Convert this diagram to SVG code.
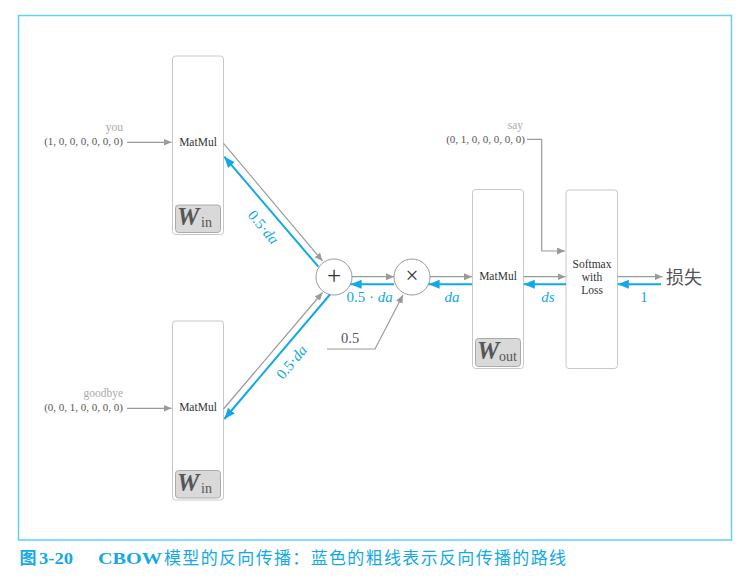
<svg xmlns="http://www.w3.org/2000/svg" width="748" height="587" viewBox="0 0 748 587">
<style>
.box{fill:#fff;stroke:#c8c8c8;stroke-width:1}
.lbl{fill:#d9d9d9;stroke:#ababab;stroke-width:1}
.serif{font-family:"Liberation Serif","DejaVu Serif",serif}
.mm{font-family:"Liberation Serif",serif;font-size:11.5px;fill:#333;text-anchor:middle}
.W{font-family:"Liberation Serif",serif;font-size:25px;font-weight:bold;font-style:italic;fill:#555}
.sub{font-family:"Liberation Serif",serif;font-size:14px;fill:#555}
.word{font-family:"Liberation Serif",serif;font-size:11.5px;fill:#aaa;text-anchor:end}
.vec{font-family:"Liberation Serif",serif;font-size:11px;fill:#555;text-anchor:end}
.g{fill:none;stroke:#9a9a9a;stroke-width:1.2}
.b{fill:none;stroke:#10a8e8;stroke-width:2}
.bt{font-family:"Liberation Serif",serif;font-size:15px;fill:#10a8e8;text-anchor:middle}
.op{fill:#fff;stroke:#9a9a9a;stroke-width:1}
</style>
<defs>
<marker id="ga" markerUnits="userSpaceOnUse" markerWidth="9" markerHeight="8" refX="8" refY="3.5" orient="auto">
<path d="M0,0 L8,3.5 L0,7 z" fill="#9a9a9a"/>
</marker>
<marker id="ba" markerUnits="userSpaceOnUse" markerWidth="12" markerHeight="10" refX="11" refY="4.5" orient="auto">
<path d="M0,0 L11,4.5 L0,9 z" fill="#10a8e8"/>
</marker>
</defs>
<rect x="18.5" y="15.5" width="713" height="524.5" fill="none" stroke="#5fd1f7" stroke-width="1.5"/>

<g id="input-you">
<text class="word" x="123" y="131">you</text>
<text class="vec" x="123" y="145">(1, 0, 0, 0, 0, 0, 0)</text>
</g>
<g id="input-goodbye">
<text class="word" x="123" y="397">goodbye</text>
<text class="vec" x="123" y="411">(0, 0, 1, 0, 0, 0, 0)</text>
</g>
<g id="input-say">
<text class="word" x="523" y="129">say</text>
<text class="vec" x="525" y="142.5">(0, 1, 0, 0, 0, 0, 0)</text>
</g>

<g id="matmul-in-1">
<rect class="box" x="172.5" y="56" width="51" height="178.5" rx="3"/>
<text class="mm" x="198" y="146">MatMul</text>
<rect class="lbl" x="175.5" y="205" width="45" height="27.5" rx="3"/>
<text class="W" x="177" y="225">W</text><text class="sub" x="201" y="227">in</text>
</g>
<g id="matmul-in-2">
<rect class="box" x="172.5" y="321" width="51" height="179" rx="3"/>
<text class="mm" x="198" y="411">MatMul</text>
<rect class="lbl" x="175.5" y="470.5" width="45" height="27.5" rx="3"/>
<text class="W" x="177" y="490.5">W</text><text class="sub" x="201" y="492.5">in</text>
</g>
<g id="add">
<circle class="op" cx="334" cy="277" r="18"/>
<text class="serif" x="334" y="283.5" font-size="25" fill="#333" text-anchor="middle">+</text>
</g>
<g id="mul">
<circle class="op" cx="412" cy="277" r="18"/>
<text class="serif" x="412" y="283" font-size="23" fill="#333" text-anchor="middle">×</text>
</g>
<g id="matmul-out">
<rect class="box" x="472.5" y="189.5" width="51" height="179" rx="3"/>
<text class="mm" x="498" y="280">MatMul</text>
<rect class="lbl" x="475.5" y="338.5" width="45" height="28" rx="3"/>
<text class="W" x="477" y="358.5">W</text><text class="sub" x="499" y="360.5">out</text>
</g>
<g id="softmax">
<rect class="box" x="566" y="190" width="51.5" height="178.5" rx="3"/>
<text class="mm" x="592" y="268">Softmax</text>
<text class="mm" x="592" y="281">with</text>
<text class="mm" x="592" y="294">Loss</text>
</g>
<g id="loss">
<text x="666" y="283.5" font-family="'Noto Sans CJK SC',sans-serif" font-size="18" fill="#555">损失</text>
</g>

<g id="connectors">
<line class="g" x1="127" y1="142.3" x2="171.5" y2="142.3" marker-end="url(#ga)"/>
<line class="g" x1="127" y1="408.3" x2="171.5" y2="408.3" marker-end="url(#ga)"/>
<polyline class="g" points="527,139.3 541.7,139.3 541.7,251 565,251" marker-end="url(#ga)"/>
<line class="g" x1="223.5" y1="143.3" x2="322.5" y2="261" marker-end="url(#ga)"/>
<line class="g" x1="223.5" y1="409" x2="322.5" y2="292.5" marker-end="url(#ga)"/>
<line class="g" x1="352" y1="276.7" x2="394" y2="276.7" marker-end="url(#ga)"/>
<polyline class="g" points="327,349 375,349 403,295" marker-end="url(#ga)"/>
<line class="g" x1="430" y1="276.7" x2="472" y2="276.7" marker-end="url(#ga)"/>
<line class="g" x1="523.5" y1="276.7" x2="565.5" y2="276.7" marker-end="url(#ga)"/>
<line class="g" x1="617.5" y1="276.7" x2="662.5" y2="276.7" marker-end="url(#ga)"/>

<line class="b" x1="318.3" y1="266.7" x2="224.3" y2="156.7" marker-end="url(#ba)"/>
<line class="b" x1="330" y1="294.5" x2="224.3" y2="419" marker-end="url(#ba)"/>
<line class="b" x1="394" y1="284.3" x2="350.6" y2="284.3" marker-end="url(#ba)"/>
<line class="b" x1="472" y1="284.3" x2="428.6" y2="284.3" marker-end="url(#ba)"/>
<line class="b" x1="566" y1="284.3" x2="523.8" y2="284.3" marker-end="url(#ba)"/>
<line class="b" x1="661" y1="284.3" x2="617.8" y2="284.3" marker-end="url(#ba)"/>

<text class="bt" transform="translate(263,227.5) rotate(50)" y="4.5">0.5·<tspan font-style="italic">da</tspan></text>
<text class="bt" transform="translate(292,362.5) rotate(-50)" y="4.5">0.5·<tspan font-style="italic">da</tspan></text>
<text class="bt" x="369.5" y="302">0.5 · <tspan font-style="italic">da</tspan></text>
<text class="bt" x="452" y="302" font-style="italic">da</text>
<text class="bt" x="548" y="302" font-style="italic">ds</text>
<text class="bt" x="644" y="302">1</text>
<text class="serif" x="341" y="343" font-size="14.5" fill="#555">0.5</text>
</g>

<g id="caption" fill="#12a9e6" font-size="17">
<text x="19.5" y="564" font-family="'Noto Sans CJK SC',sans-serif" font-weight="bold">图</text>
<text x="39" y="564" font-family="'Liberation Serif',serif" font-weight="bold" textLength="34" lengthAdjust="spacingAndGlyphs">3-20</text>
<text x="98" y="564" font-family="'Liberation Serif',serif" font-weight="bold" textLength="64" lengthAdjust="spacingAndGlyphs">CBOW</text>
<text x="164" y="564" font-family="'Noto Sans CJK SC',sans-serif" textLength="402" lengthAdjust="spacing">模型的反向传播：蓝色的粗线表示反向传播的路线</text>
</g>
</svg>
